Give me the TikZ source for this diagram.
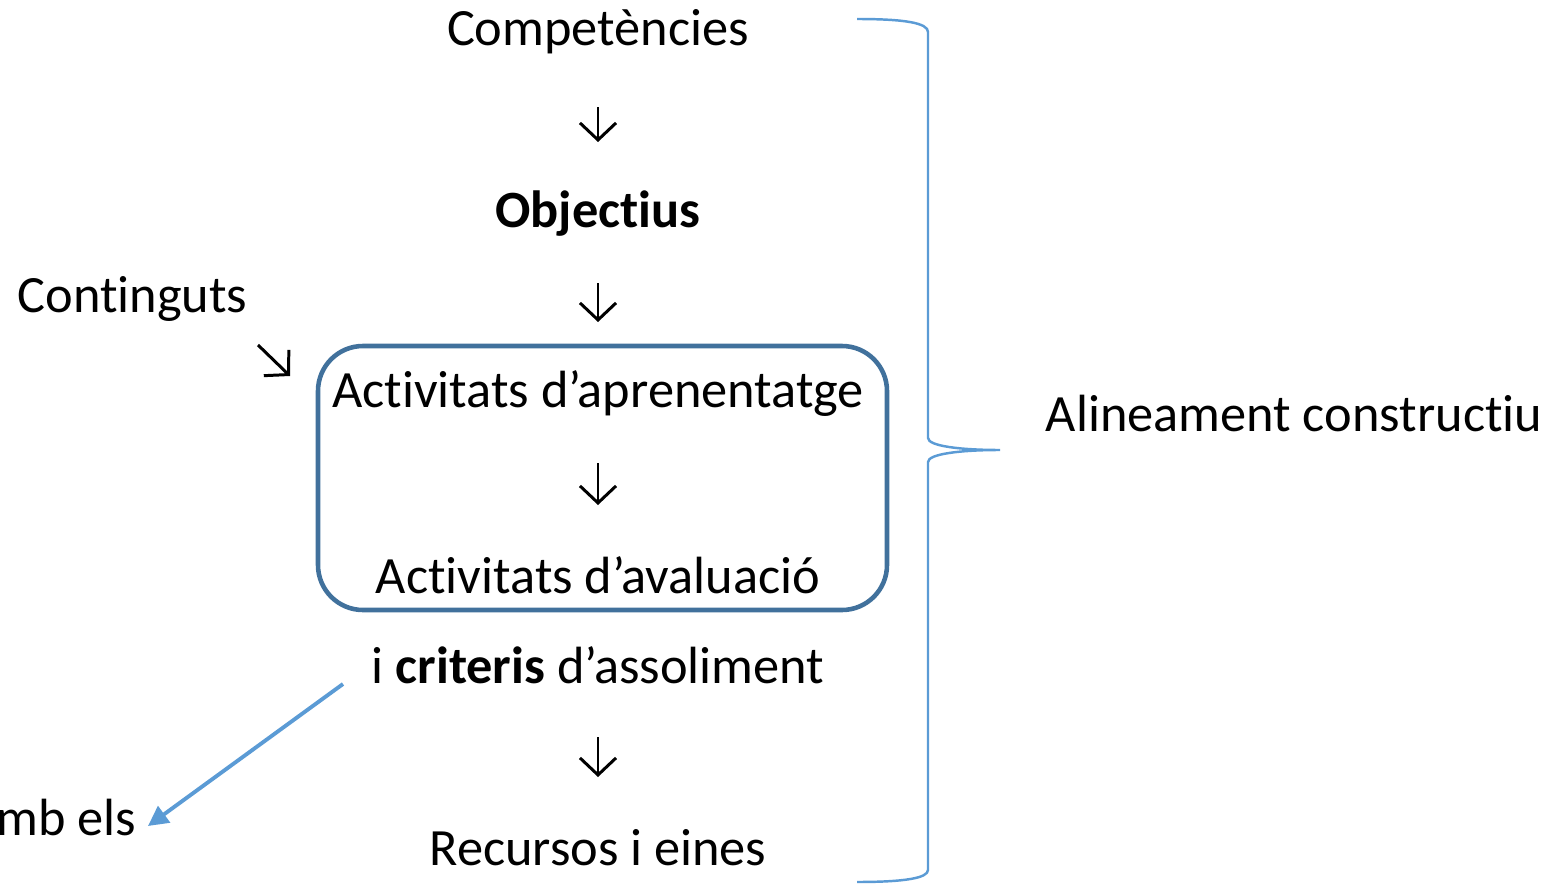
\documentclass[tikz,border=0pt]{standalone}
\usepackage{fontspec}
\setmainfont{Carlito}[Ligatures=NoCommon]
\usepackage{tikz}
\usetikzlibrary{arrows.meta,positioning}
\definecolor{vora}{HTML}{41719C}
\definecolor{blau}{HTML}{5B9BD5}

\begin{document}
\begin{tikzpicture}[
    font=\fontsize{14.9}{18}\selectfont,
    txt/.style={inner sep=0pt},
    fletxa/.style={line width=0.85pt, -{Straight Barb[length=0.17cm, width=0.36cm, line width=0.85pt]}},
    caixa/.style={draw=vora, line width=1.3pt, rounded corners=0.45cm, minimum width=5.69cm, minimum height=2.64cm},
    clau/.style={draw=blau, line width=0.7pt},
    blava/.style={draw=blau, line width=1.1pt, -{Triangle[length=0.2cm, width=0.2cm]}}
  ]
      \useasboundingbox (0,0) rectangle (15.52,-8.86);

      \node[txt] (comp) at (5.98,-0.32) {Competències};
      \node[txt] (obj)  at (5.98,-2.14) {\textbf{Objectius}};
      \node[txt, anchor=west] (cont) at (0.17,-2.99) {Continguts};
      \node[caixa] (box) at (6.025,-4.78) { };
      \node[txt] (aprn) at (5.98,-3.94) {Activitats d’aprenentatge};
      \node[txt] (aval) at (5.98,-5.75) {Activitats d’avaluació};
      \node[txt] (crit) at (5.98,-6.65) {i \textbf{criteris} d’assoliment};
      \node[txt] (recs) at (5.98,-8.48) {Recursos i eines};
      \node[txt, anchor=west] (alin) at (10.45,-4.14) {Alineament constructiu};
      \node[txt, anchor=west] (amb)  at (-0.04,-8.18) {mb els};

      \coordinate (c1) at (2.58,-3.45);
      \coordinate (c2) at (2.90,-3.76);
      \coordinate (b1) at (3.43,-6.84);
      \coordinate (b2) at (1.48,-8.26);

      \draw[fletxa, shorten <=0.75cm, shorten >=0.72cm] (comp.center) -- (obj.center);
      \draw[fletxa, shorten <=0.69cm, shorten >=0.72cm] (obj.center)  -- (aprn.center);
      \draw[fletxa, shorten <=0.69cm, shorten >=0.70cm] (aprn.center) -- (aval.center);
      \draw[fletxa, shorten <=0.72cm, shorten >=0.71cm] (crit.center) -- (recs.center);
      \draw[fletxa] (c1) -- (c2);
      \draw[blava] (b1) -- (b2);

      \draw[clau] (8.57,-0.19) .. controls (9.05,-0.19) and (9.28,-0.23) .. (9.28,-0.32)
                  -- (9.28,-4.38) .. controls (9.28,-4.46) and (9.60,-4.50) .. (10.00,-4.50)
                  .. controls (9.60,-4.50) and (9.28,-4.54) .. (9.28,-4.62)
                  -- (9.28,-8.70) .. controls (9.28,-8.78) and (9.05,-8.82) .. (8.57,-8.82);
\end{tikzpicture}
\end{document}
